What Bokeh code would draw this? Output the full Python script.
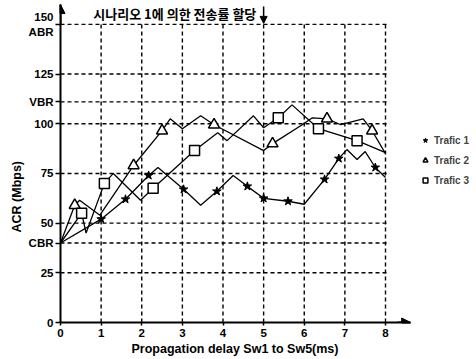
from bokeh.plotting import figure
from bokeh.models import (FixedTicker, Arrow, NormalHead, Label, Legend, LegendItem, Range1d, Title)
from bokeh.embed import file_html
from bokeh.resources import INLINE

# ---------------- data ----------------
x_ticks = [0, 1, 2, 3, 4, 5, 6, 7, 8]
y_ticks = [0, 25, 40, 50, 75, 100, 111, 125, 150]
y_tick_labels = {40: "CBR", 111: "VBR", 150: "150\nABR"}

t1_x = [0, 1.0, 1.6, 2.17, 2.4, 3.03, 3.45, 3.85, 4.25, 4.6, 5.0, 5.6, 6.0, 6.5, 6.85, 7.05, 7.3, 7.5, 7.75, 8.0]
t1_y = [40, 52, 62, 74, 78, 67, 59, 66, 74, 68.5, 62.5, 61, 59.5, 72, 82.5, 87, 82, 86, 78, 73]
t1_marks = [1, 2, 3, 5, 7, 9, 10, 11, 13, 14, 18]

t2_x = [0, 0.35, 0.47, 0.97, 1.8, 2.5, 2.7, 3.0, 3.45, 3.78, 5.0, 5.22, 5.95, 6.2, 6.56, 6.9, 7.45, 7.67, 8.0]
t2_y = [40, 59, 61.5, 54, 79, 96.5, 102.5, 97.5, 104, 99.5, 86.5, 90, 99.5, 103, 102.5, 99.5, 102.5, 96.5, 85]
t2_marks = [1, 4, 5, 9, 11, 14, 17]

t3_x = [0, 0.52, 0.63, 1.08, 1.3, 1.97, 2.28, 3.3, 3.87, 4.1, 4.75, 5.0, 5.36, 5.7, 6.35, 7.3, 8.0]
t3_y = [40, 55, 45, 70, 75, 61.5, 67.5, 86.5, 95.5, 91.5, 104, 98, 103, 109.5, 97.5, 91.5, 85.5]
t3_marks = [1, 3, 6, 7, 12, 14, 15]

series_names = ["Trafic 1", "Trafic 2", "Trafic 3"]
title_text = "시나리오 1에 의한 전송률 할당"
x_title = "Propagation delay  Sw1 to Sw5(ms)"
y_title = "ACR (Mbps)"

FONT = "Liberation Sans"

p = figure(width=476, height=359, x_range=Range1d(0, 10.24), y_range=Range1d(0, 160),
           output_backend="svg", toolbar_location=None,
           min_border_left=60, min_border_right=0, min_border_top=4, min_border_bottom=37)
p.outline_line_color = None
p.grid.visible = False
p.background_fill_color = "white"

# axes
p.xaxis.bounds = (0, 8.62)
p.yaxis.bounds = (0, 160)
p.xaxis.ticker = FixedTicker(ticks=x_ticks)
p.yaxis.ticker = FixedTicker(ticks=y_ticks)
p.yaxis.major_label_overrides = y_tick_labels
for ax in (p.xaxis[0], p.yaxis[0]):
    ax.axis_line_width = 2
    ax.axis_line_color = "black"
    ax.major_tick_line_color = "black"
    ax.major_tick_line_width = 1.5
    ax.major_tick_in = 0
    ax.minor_tick_line_color = None
    ax.major_label_text_font = FONT
    ax.major_label_text_font_style = "bold"
    ax.major_label_text_font_size = "11.5px"
    ax.major_label_text_color = "black"
p.xaxis.major_tick_out = 3
p.xaxis.major_label_standoff = 3
p.yaxis.major_tick_out = 5
p.yaxis.major_label_standoff = 2

# axis titles, placed like the reference
p.add_layout(Title(text=y_title, align="left", offset=90, standoff=4,
                   text_font=FONT, text_font_style="bold", text_font_size="12.5px",
                   text_color="black"), "left")
p.add_layout(Title(text=x_title, align="left", offset=71, standoff=1,
                   text_font=FONT, text_font_style="bold", text_font_size="12.5px",
                   text_color="black"), "below")

# dashed grid
grid_x = x_ticks[1:]
grid_y = y_ticks[1:]
p.segment(x0=grid_x, y0=[0] * len(grid_x), x1=grid_x, y1=[150] * len(grid_x),
          line_color="black", line_width=1.4, line_dash="4 3")
p.segment(x0=[0] * len(grid_y), y0=grid_y, x1=[8.1] * len(grid_y), y1=grid_y,
          line_color="black", line_width=1.4, line_dash="4 3")

# axis arrow heads
p.add_layout(Arrow(end=NormalHead(size=9, fill_color="black", line_color="black"),
                   x_start=0, y_start=150, x_end=0, y_end=160, line_width=2, line_color="black"))
p.add_layout(Arrow(end=NormalHead(size=9, fill_color="black", line_color="black"),
                   x_start=8.3, y_start=0, x_end=8.62, y_end=0, line_width=2, line_color="black"))

# series
def marks(xs, ys, idx):
    return [xs[i] for i in idx], [ys[i] for i in idx]

p.line(t1_x, t1_y, line_color="black", line_width=1.3)
p.line(t2_x, t2_y, line_color="black", line_width=1.3)
p.line(t3_x, t3_y, line_color="black", line_width=1.3)

m1x, m1y = marks(t1_x, t1_y, t1_marks)
m2x, m2y = marks(t2_x, t2_y, t2_marks)
m3x, m3y = marks(t3_x, t3_y, t3_marks)
r1 = p.scatter(m1x, m1y, marker="star", size=9, fill_color="black", line_color="black")
r2 = p.scatter(m2x, m2y, marker="triangle", size=11, fill_color="white", line_color="black", line_width=1.5)
r3 = p.scatter(m3x, m3y, marker="square", size=10, fill_color="white", line_color="black", line_width=1.5)

legend = Legend(items=[LegendItem(label=series_names[0], renderers=[r1]),
                       LegendItem(label=series_names[1], renderers=[r2]),
                       LegendItem(label=series_names[2], renderers=[r3])],
                location=(359, 134), border_line_alpha=0, background_fill_alpha=0,
                padding=0, margin=0, spacing=4, glyph_width=12, glyph_height=16,
                label_standoff=3, label_text_font=FONT, label_text_font_style="bold",
                label_text_font_size="10px", label_height=16)
p.add_layout(legend)

# top annotation
p.add_layout(Label(x=4.82, y=150, y_offset=11, text=title_text, text_align="right",
                   text_baseline="middle", text_font="Noto Sans CJK KR",
                   text_font_style="bold", text_font_size="13px", text_color="black"))
p.add_layout(Arrow(end=NormalHead(size=7, fill_color="black", line_color="black"),
                   x_start=5, y_start=159, x_end=5, y_end=150.5, line_width=1.5, line_color="black"))

open("out.html", "w").write(file_html(p, INLINE))
